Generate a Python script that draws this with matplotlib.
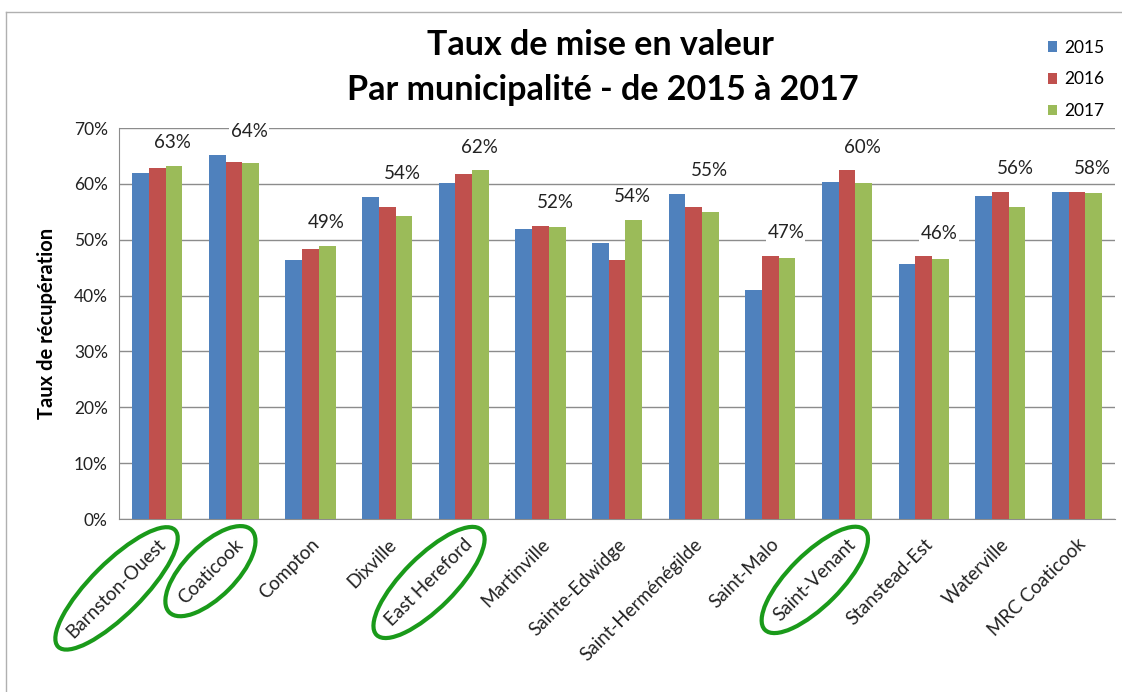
import numpy as np
import matplotlib
matplotlib.use("Agg")
import matplotlib.pyplot as plt
from matplotlib.patches import Ellipse
from matplotlib.lines import Line2D
from matplotlib.ticker import FuncFormatter

plt.rcParams['font.family'] = ['Lato', 'DejaVu Sans']

# Data (taux de mise en valeur, %)
municipalites = ['Barnston-Ouest', 'Coaticook', 'Compton', 'Dixville', 'East Hereford',
                 'Martinville', 'Sainte-Edwidge', 'Saint-Herménégilde', 'Saint-Malo',
                 'Saint-Venant', 'Stanstead-Est', 'Waterville', 'MRC Coaticook']
annees = ['2015', '2016', '2017']
taux_2015 = [61.9, 65.1, 46.4, 57.7, 60.2, 51.9, 49.4, 58.2, 41.0, 60.4, 45.6, 57.9, 58.6]
taux_2016 = [62.9, 64.0, 48.3, 55.9, 61.8, 52.5, 46.4, 55.9, 47.1, 62.4, 47.0, 58.6, 58.6]
taux_2017 = [63.2, 63.8, 48.9, 54.3, 62.4, 52.3, 53.6, 55.0, 46.7, 60.2, 46.5, 55.9, 58.4]
etiquettes = ['63%', '64%', '49%', '54%', '62%', '52%', '54%', '55%', '47%', '60%', '46%', '56%', '58%']
encercles = ['Barnston-Ouest', 'Coaticook', 'East Hereford', 'Saint-Venant']

colors = ['#4F81BD', '#C0504D', '#9BBB59']
series = [taux_2015, taux_2016, taux_2017]

fig = plt.figure(figsize=(11.22, 6.92), dpi=100)
ax = fig.add_axes([0.106, 0.250, 0.888, 0.565])

x = np.arange(len(municipalites))
w = 0.218
for i, (vals, c, lab) in enumerate(zip(series, colors, annees)):
    ax.bar(x + (i - 1) * w, vals, width=w, color=c, label=lab, zorder=3)

#Data labels above each group
for xi, lab, a, b, c in zip(x, etiquettes, taux_2015, taux_2016, taux_2017):
    ax.text(xi + 0.2, max(a, b, c) + 4.2, lab, ha='center', va='center',
            fontsize=13.5, color='#222222', zorder=4,
            bbox=dict(facecolor='white', edgecolor='none', pad=1))

ax.set_xlim(-0.5, len(municipalites) - 0.5)
ax.set_ylim(0, 70)
ax.set_yticks(np.arange(0, 71, 10))
ax.yaxis.set_major_formatter(FuncFormatter(lambda v, p: f'{v:.0f}%'))
ax.grid(axis='y', color='#8c8c8c', linewidth=1, zorder=0)
for s in ['top', 'right']:
    ax.spines[s].set_visible(False)
for s in ['left', 'bottom']:
    ax.spines[s].set_color('#8c8c8c')
ax.tick_params(axis='both', length=0, labelsize=12.5, colors='#222222', pad=8)
ax.set_xticks(x)
ax.set_xticklabels(municipalites, rotation=45, ha='right', rotation_mode='anchor',
                   fontsize=13.5)
ax.tick_params(axis='x', pad=12)
ax.set_ylabel('Taux de récupération', fontsize=14.5, fontweight='bold', labelpad=12)

fig.text(0.535, 0.935, 'Taux de mise en valeur', ha='center', va='center',
         fontsize=24.5, fontweight='bold')
fig.text(0.537, 0.870, 'Par municipalité - de 2015 à 2017', ha='center', va='center',
         fontsize=24.5, fontweight='bold')

fig.legend(loc='upper left', bbox_to_anchor=(0.920, 0.965), frameon=False,
           fontsize=12.5, handlelength=0.55, handleheight=0.55, handletextpad=0.4,
           labelspacing=0.9)

#Outer chart border
fig.add_artist(Line2D([0.005, 1.0], [0.983, 0.983], color='#b0b0b0', lw=1))
fig.add_artist(Line2D([0.005, 0.005], [0.0, 0.983], color='#b0b0b0', lw=1))

#Green ellipses around some labels
fig.canvas.draw()
r = fig.canvas.get_renderer()
for t in ax.get_xticklabels():
    if t.get_text() in encercles:
        bb = t.get_window_extent(r)
        cx, cy = (bb.x0 + bb.x1) / 2, (bb.y0 + bb.y1) / 2
        L = bb.width * np.sqrt(2) + 16
        e = Ellipse((cx, cy), L, 52, angle=45, transform=None, fill=False,
                    edgecolor='#1a9a1a', linewidth=3, clip_on=False)
        fig.add_artist(e)

fig.savefig('out.png', dpi=100)
